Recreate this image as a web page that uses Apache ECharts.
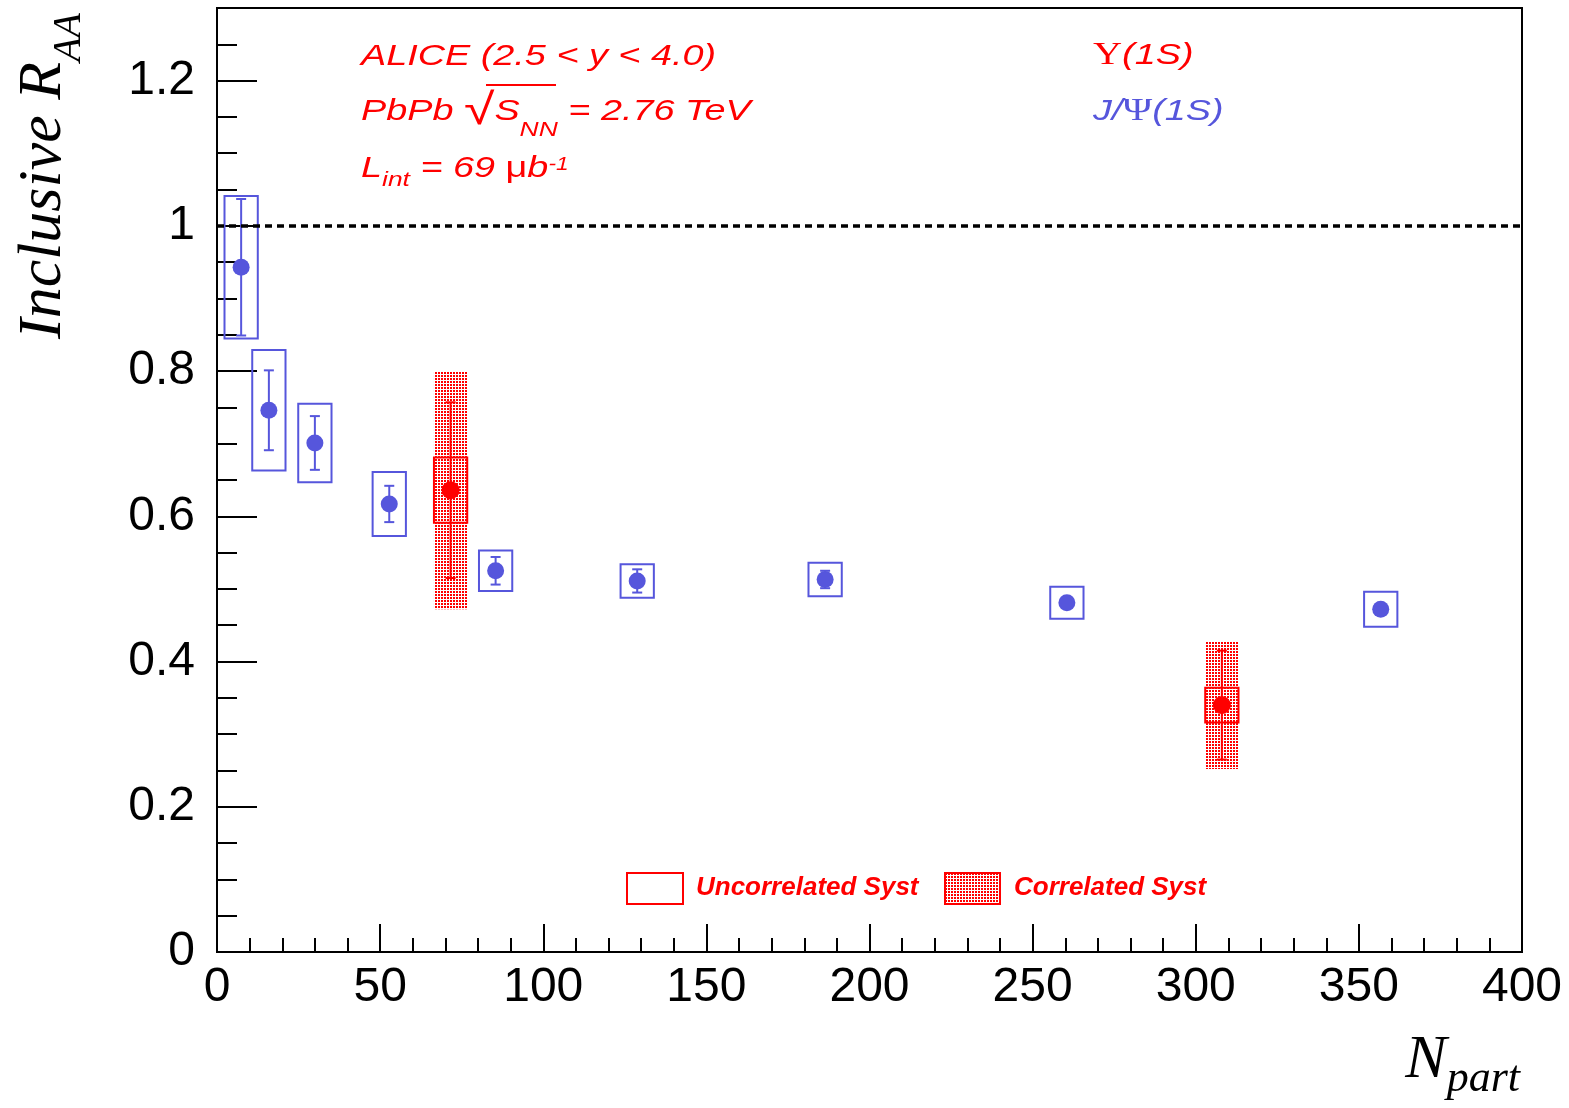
<!DOCTYPE html>
<html>
<head>
<meta charset="utf-8">
<script src="https://cdn.jsdelivr.net/npm/echarts@6.0.0/dist/echarts.min.js"></script>
<style>
html,body{margin:0;padding:0;background:#fff;}
#chart{width:1569px;height:1108px;}
</style>
</head>
<body>
<div id="chart"></div>
<script>
// ---- Data ----
const jpsiNpart = [7.4, 15.9, 30.0, 52.8, 85.4, 128.8, 186.4, 260.5, 356.7];
const jpsiRaa   = [0.943, 0.746, 0.701, 0.617, 0.525, 0.511, 0.513, 0.481, 0.472];
const jpsiStat  = [0.094, 0.055, 0.037, 0.025, 0.019, 0.016, 0.012, 0.007, 0.007];
const jpsiSyst  = [0.098, 0.083, 0.054, 0.044, 0.028, 0.023, 0.023, 0.022, 0.024];

const upsNpart  = [71.6, 308.0];
const upsRaa    = [0.636, 0.340];
const upsStat   = [0.121, 0.075];
const upsUncorr = [0.045, 0.024];
const upsCorr   = [0.164, 0.088];

const xTicks = [0, 50, 100, 150, 200, 250, 300, 350, 400];
const yTicks = [0, 0.2, 0.4, 0.6, 0.8, 1, 1.2];

// ---- Styles ----
const RED = '#ff0000';
const BLUE = '#5656dc';
const BOX_HW = 5.1;
const STRETCH = 1.26;

const pc = document.createElement('canvas');
pc.width = 3; pc.height = 3;
const pctx = pc.getContext('2d');
pctx.fillStyle = RED;
pctx.fillRect(0, 0, 2, 2);
const pattern = {image: pc, repeat: 'repeat'};

function boxRender(stroke, fill, lw) {
  return function (params, api) {
    const x = api.value(0), y = api.value(1), s = api.value(2);
    const p1 = api.coord([x - BOX_HW, y + s]);
    const p2 = api.coord([x + BOX_HW, y - s]);
    return {
      type: 'rect',
      shape: {x: p1[0], y: p1[1], width: p2[0] - p1[0], height: p2[1] - p1[1]},
      style: {fill: fill, stroke: stroke, lineWidth: lw}
    };
  };
}
function errRender(color) {
  return function (params, api) {
    const x = api.value(0), y = api.value(1), e = api.value(2);
    const t = api.coord([x, y + e]);
    const b = api.coord([x, y - e]);
    const c = 5;
    const st = {stroke: color, lineWidth: 2};
    return {
      type: 'group',
      children: [
        {type: 'line', shape: {x1: t[0], y1: t[1], x2: b[0], y2: b[1]}, style: st},
        {type: 'line', shape: {x1: t[0] - c, y1: t[1], x2: t[0] + c, y2: t[1]}, style: st},
        {type: 'line', shape: {x1: b[0] - c, y1: b[1], x2: b[0] + c, y2: b[1]}, style: st}
      ]
    };
  };
}

const jpsiPts = jpsiNpart.map((x, i) => [x, jpsiRaa[i]]);
const jpsiErr = jpsiNpart.map((x, i) => [x, jpsiRaa[i], jpsiStat[i]]);
const jpsiBox = jpsiNpart.map((x, i) => [x, jpsiRaa[i], jpsiSyst[i]]);
const upsPts = upsNpart.map((x, i) => [x, upsRaa[i]]);
const upsErr = upsNpart.map((x, i) => [x, upsRaa[i], upsStat[i]]);
const upsBoxU = upsNpart.map((x, i) => [x, upsRaa[i], upsUncorr[i]]);
const upsBoxC = upsNpart.map((x, i) => [x, upsRaa[i], upsCorr[i]]);

const SANS = 'Liberation Sans';
const SERIF = 'Liberation Serif';
const tickStyle = {color: '#000', width: 2};

const chart = echarts.init(document.getElementById('chart'), null, {renderer: 'canvas'});
const option = {
  animation: false,
  backgroundColor: '#fff',
  grid: {left: 217, right: 47, top: 8, bottom: 156, show: true, borderColor: '#000', borderWidth: 2},
  xAxis: {
    type: 'value', min: xTicks[0], max: xTicks[xTicks.length - 1], interval: xTicks[1] - xTicks[0],
    axisLine: {lineStyle: tickStyle},
    axisTick: {inside: true, length: 28, lineStyle: tickStyle},
    minorTick: {show: true, splitNumber: 5, length: 14, lineStyle: tickStyle},
    splitLine: {show: false},
    axisLabel: {fontSize: 48, color: '#000', fontFamily: SANS, margin: 12}
  },
  yAxis: {
    type: 'value', min: 0, max: 1.3, interval: yTicks[1] - yTicks[0],
    axisLine: {lineStyle: tickStyle},
    axisTick: {inside: true, length: 40, lineStyle: tickStyle},
    minorTick: {show: true, splitNumber: 4, length: 20, lineStyle: tickStyle},
    splitLine: {show: false},
    axisLabel: {fontSize: 48, color: '#000', fontFamily: SANS, margin: 22, showMaxLabel: false,
      formatter: v => (yTicks.some(t => Math.abs(t - v) < 1e-9) ? String(+v.toFixed(1)) : '')}
  },
  series: [
    {type: 'custom', name: 'corr', renderItem: boxRender(null, pattern, 0), data: upsBoxC, clip: false, z: 1},
    {type: 'custom', name: 'uncorr', renderItem: boxRender(RED, 'none', 2), data: upsBoxU, clip: false, z: 2},
    {type: 'custom', name: 'jpsiSyst', renderItem: boxRender(BLUE, 'none', 2), data: jpsiBox, clip: false, z: 2},
    {type: 'custom', name: 'jpsiStat', renderItem: errRender(BLUE), data: jpsiErr, clip: false, z: 3},
    {type: 'custom', name: 'upsStat', renderItem: errRender(RED), data: upsErr, clip: false, z: 3},
    {type: 'scatter', name: 'J/Psi', data: jpsiPts, symbol: 'circle', symbolSize: 17,
      itemStyle: {color: BLUE, opacity: 1}, z: 4,
      markLine: {silent: true, symbol: 'none', label: {show: false},
        lineStyle: {color: '#000', type: [7, 5], width: 3.5, opacity: 1}, data: [{yAxis: 1}]}},
    {type: 'scatter', name: 'Upsilon', data: upsPts, symbol: 'circle', symbolSize: 18,
      itemStyle: {color: RED, opacity: 1}, z: 4}
  ],
  graphic: [
    // y-axis title
    {type: 'text', x: 43.4, y: 13, rotation: Math.PI / 2,
      style: {text: '{m|Inclusive R}{s|AA}', align: 'right', verticalAlign: 'middle',
        rich: {
          m: {fontSize: 62, lineHeight: 62, fontFamily: SERIF, fontStyle: 'italic', fill: '#000', verticalAlign: 'middle'},
          s: {fontSize: 40, lineHeight: 62, fontFamily: SERIF, fontStyle: 'italic', fill: '#000', verticalAlign: 'middle', padding: [53, 0, 0, 0]}
        }}},
    // x-axis title
    {type: 'text', x: 1520, y: 1061,
      style: {text: '{m|N}{s|part}', align: 'right', verticalAlign: 'middle',
        rich: {
          m: {fontSize: 62, lineHeight: 62, fontFamily: SERIF, fontStyle: 'italic', fill: '#000', verticalAlign: 'middle'},
          s: {fontSize: 44, lineHeight: 62, fontFamily: SERIF, fontStyle: 'italic', fill: '#000', verticalAlign: 'middle', padding: [36, 0, 0, 0]}
        }}},
    // annotations (ROOT text is horizontally wider: stretch)
    {type: 'text', x: 361, y: 56.5, scaleX: STRETCH,
      style: {text: 'ALICE (2.5 < y < 4.0)', fontSize: 30, fontFamily: SANS, fontStyle: 'italic', fill: RED, verticalAlign: 'middle'}},
    {type: 'text', x: 361, y: 111.5, scaleX: STRETCH,
      style: {text: '{m|PbPb }{r|√}{m|S}{n|NN}{m| = 2.76 TeV}', verticalAlign: 'middle',
        rich: {
          m: {fontSize: 30, lineHeight: 40, fontFamily: SANS, fontStyle: 'italic', fill: RED, verticalAlign: 'middle'},
          r: {fontSize: 44, lineHeight: 40, fontFamily: SANS, fill: RED, verticalAlign: 'middle'},
          n: {fontSize: 21, lineHeight: 40, fontFamily: SANS, fontStyle: 'italic', fill: RED, verticalAlign: 'middle', padding: [37, 0, 0, 0]}
        }}},
    {type: 'line', shape: {x1: 486, y1: 85, x2: 556, y2: 85}, style: {stroke: RED, lineWidth: 2}},
    {type: 'text', x: 361, y: 169, scaleX: STRETCH,
      style: {text: '{m|L}{n|int}{m| = 69 }{u|μ}{m|b}{p|-1}', verticalAlign: 'middle',
        rich: {
          m: {fontSize: 30, lineHeight: 40, fontFamily: SANS, fontStyle: 'italic', fill: RED, verticalAlign: 'middle'},
          u: {fontSize: 30, lineHeight: 40, fontFamily: SANS, fill: RED, verticalAlign: 'middle'},
          n: {fontSize: 21, lineHeight: 40, fontFamily: SANS, fontStyle: 'italic', fill: RED, verticalAlign: 'middle', padding: [22, 0, 0, 0]},
          p: {fontSize: 18, lineHeight: 40, fontFamily: SANS, fontStyle: 'italic', fill: RED, verticalAlign: 'middle', padding: [0, 0, 8, 0]}
        }}},
    {type: 'text', x: 1093, y: 55.5, scaleX: STRETCH,
      style: {text: '{g|Υ}{m|(1S)}', verticalAlign: 'middle',
        rich: {
          m: {fontSize: 30, lineHeight: 40, fontFamily: SANS, fontStyle: 'italic', fill: RED, verticalAlign: 'middle'},
          g: {fontSize: 32, lineHeight: 40, fontFamily: SERIF, fill: RED, verticalAlign: 'middle'}
        }}},
    {type: 'text', x: 1093, y: 111.5, scaleX: STRETCH,
      style: {text: '{m|J/}{g|Ψ}{m|(1S)}', verticalAlign: 'middle',
        rich: {
          m: {fontSize: 30, lineHeight: 40, fontFamily: SANS, fontStyle: 'italic', fill: BLUE, verticalAlign: 'middle'},
          g: {fontSize: 32, lineHeight: 40, fontFamily: SERIF, fill: BLUE, verticalAlign: 'middle'}
        }}},
    // legend
    {type: 'rect', shape: {x: 627, y: 873, width: 56, height: 31}, style: {fill: '#fff', stroke: RED, lineWidth: 2}},
    {type: 'text', x: 696, y: 888,
      style: {text: 'Uncorrelated Syst', fontSize: 26, fontWeight: 'bold', fontStyle: 'italic', fontFamily: SANS, fill: RED, verticalAlign: 'middle'}},
    {type: 'rect', shape: {x: 945, y: 873, width: 55, height: 31}, style: {fill: pattern, stroke: RED, lineWidth: 2}},
    {type: 'text', x: 1014, y: 888,
      style: {text: 'Correlated Syst', fontSize: 26, fontWeight: 'bold', fontStyle: 'italic', fontFamily: SANS, fill: RED, verticalAlign: 'middle'}}
  ]
};
chart.setOption(option);
</script>
</body>
</html>
